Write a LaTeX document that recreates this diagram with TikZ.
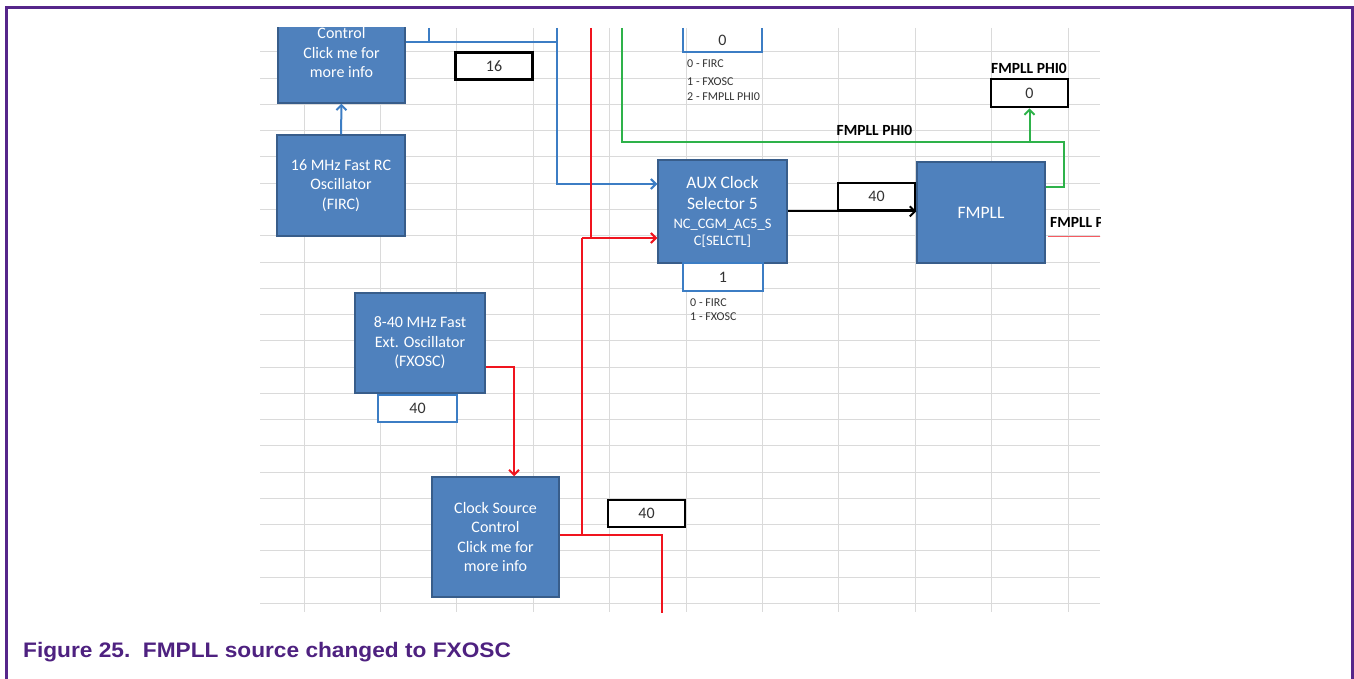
\documentclass[tikz,border=0pt]{standalone}
\usepackage{fontspec}
\setmainfont{Carlito}
\newfontfamily\capfont{Liberation Sans}
\usetikzlibrary{arrows.meta}
\definecolor{boxfill}{HTML}{4F81BD}
\definecolor{boxedge}{HTML}{385D8A}
\definecolor{lineblue}{HTML}{3C7DC4}
\definecolor{linered}{HTML}{F0141E}
\definecolor{linegreen}{HTML}{2EB24A}
\definecolor{gridgray}{HTML}{DADADA}
\definecolor{framepurple}{HTML}{56268A}
\definecolor{captionpurple}{HTML}{4E2180}
\definecolor{valtext}{HTML}{333333}
\begin{document}
\begin{tikzpicture}[x=1pt,y=-1pt,
  blk/.style={draw=boxedge, line width=1.5pt, fill=boxfill, text=white, align=center,
    font=\fontsize{16}{19.5}\selectfont, inner sep=0pt},
  bigblk/.style={blk, font=\fontsize{17.5}{21}\selectfont},
  valblack/.style={draw=black, line width=2.8pt, fill=white, text=valtext,
    font=\fontsize{16}{18}\selectfont, inner sep=0pt, minimum width=77pt, minimum height=27pt},
  valblue/.style={draw=lineblue, line width=2pt, fill=white, text=valtext,
    font=\fontsize{16}{18}\selectfont, inner sep=0pt, minimum width=79pt, minimum height=27pt},
  note/.style={text=valtext, font=\fontsize{12}{13}\selectfont, inner sep=0pt, anchor=west},
  sig/.style={font=\bfseries\fontsize{15.5}{17}\selectfont, text=black, inner sep=0pt},
  wb/.style={line width=2pt, draw=lineblue},
  wr/.style={line width=2pt, draw=linered},
  wg/.style={line width=2pt, draw=linegreen},
  tip/.style={-{Straight Barb[length=5pt,width=10pt]}}
]
\useasboundingbox (0,0) rectangle (1354,679);
% frame
\draw[framepurple, line width=3pt] (6,679) -- (6,8) -- (1352,8) -- (1352,679);
% caption
\node[anchor=base west, text=captionpurple, font=\capfont\bfseries\fontsize{21}{24}\selectfont, inner sep=0pt, xscale=1.08] (cap) at (23,657) {Figure 25.\ \ FMPLL source changed to FXOSC};

\begin{scope}
\clip (260,28) rectangle (1100,612);
% grid
\foreach \k in {0,...,21} \draw[gridgray, line width=1pt] (260,52+26.25*\k) -- (1100,52+26.25*\k);
\foreach \k in {0,...,10} \draw[gridgray, line width=1pt] (304+76.4*\k,28) -- (304+76.4*\k,612);

% coordinates
\coordinate (bt) at (557,28);
\coordinate (bj) at (557,42);
\coordinate (tick) at (429,28);
\coordinate (bin) at (557,184);
\coordinate (rt) at (591,28);
\coordinate (rj) at (591,238);
\coordinate (rk) at (582,238);
\coordinate (rc) at (582,535);
\coordinate (rb) at (662,535);
\coordinate (rbot) at (662,614);
\coordinate (fx) at (514,367);
\coordinate (gt) at (622,28);
\coordinate (g1) at (622,142);
\coordinate (g2) at (1064,142);
\coordinate (g3) at (1064,187);
\coordinate (pr1) at (1048,236);
\coordinate (pr2) at (1102,236);

% blocks
\node[blk, minimum width=127pt, minimum height=100pt] (ctl) at (341.5,53) {Control\\Click me for\\more info};
\node[blk, minimum width=128pt, minimum height=101pt] (firc) at (341,185.5) {16 MHz Fast RC\\Oscillator\\(FIRC)};
\node[blk, minimum width=130pt, minimum height=100pt] (fxosc) at (420,343) {8-40 MHz Fast\\Ext. Oscillator\\(FXOSC)};
\node[blk, minimum width=127pt, minimum height=120pt] (csc) at (495.5,537) {Clock Source\\Control\\Click me for\\more info};
\node[bigblk, minimum width=129pt, minimum height=103pt] (aux) at (722.5,211.5) {AUX Clock\\Selector 5\\[-2pt]{\fontsize{14.5}{17}\selectfont NC\_CGM\_AC5\_S}\\[-4pt]{\fontsize{14.5}{17}\selectfont C[SELCTL]}};
\node[bigblk, minimum width=128pt, minimum height=101pt] (fmpll) at (981,212.5) {FMPLL};

% value boxes
\node[valblack] (v16) at (494,66) {16};
\node[valblue] (v40x) at (417.5,408.5) {40};
\node[valblue, minimum width=80pt, minimum height=28pt] (v1) at (723,277) {1};
\node[valblack] (v40a) at (876.5,196.5) {40};
\node[valblack] (v40c) at (646.5,513.5) {40};
\node[valblack, minimum height=28pt] (vphi) at (1029.5,93) {0};
\node[inner sep=0pt, minimum width=79pt, minimum height=24pt, text=valtext, font=\fontsize{16}{18}\selectfont] (v0) at (722.5,40) {0};
\draw[lineblue, line width=2pt] (v0.north west) -- (v0.south west) -- (v0.south east) -- (v0.north east);

% notes
\node[note] (n1) at (687,63.5) {0 - FIRC};
\node[note] (n2) at (687,81.5) {1 - FXOSC};
\node[note] (n3) at (687,97) {2 - FMPLL PHI0};
\node[note] (n4) at (690,303) {0 - FIRC};
\node[note] (n5) at (690,317) {1 - FXOSC};

% signal labels
\node[sig] (s1) at (874.5,130) {FMPLL PHI0};
\node[sig] (s2) at (1029,68) {FMPLL PHI0};
\node[sig, anchor=west] (s3) at (1050,222) {FMPLL P};
\draw[linered!70, line width=0.8pt] (pr1) -- (pr2);

% blue connectors
\draw[wb] (ctl.east |- bj) -- (bj);
\draw[wb] (tick) -- (tick |- bj);
\draw[wb, tip] (bt) -- (bin) -- (aux.west |- bin);
\draw[wb, tip] (firc.north) -- (ctl.south);

% red connectors
\draw[wr] (rt) -- (rj);
\draw[wr, tip] (rk) -- (aux.west |- rk);
\draw[wr] (rk) -- (rc);
\draw[wr] (csc.east |- rc) -- (rb) -- (rbot);
\draw[wr, tip] (fxosc.east |- fx) -- (fx) -- (csc.north -| fx);

% green connectors
\draw[wg] (gt) -- (g1) -- (g2) -- (g3) -- (fmpll.east |- g3);
\draw[wg, tip] (vphi.south |- g1) -- (vphi.south);

% black connector
\draw[black, line width=2pt, tip] (aux.east |- v40a.south) -- (fmpll.west |- v40a.south);
\end{scope}
\end{tikzpicture}
\end{document}
